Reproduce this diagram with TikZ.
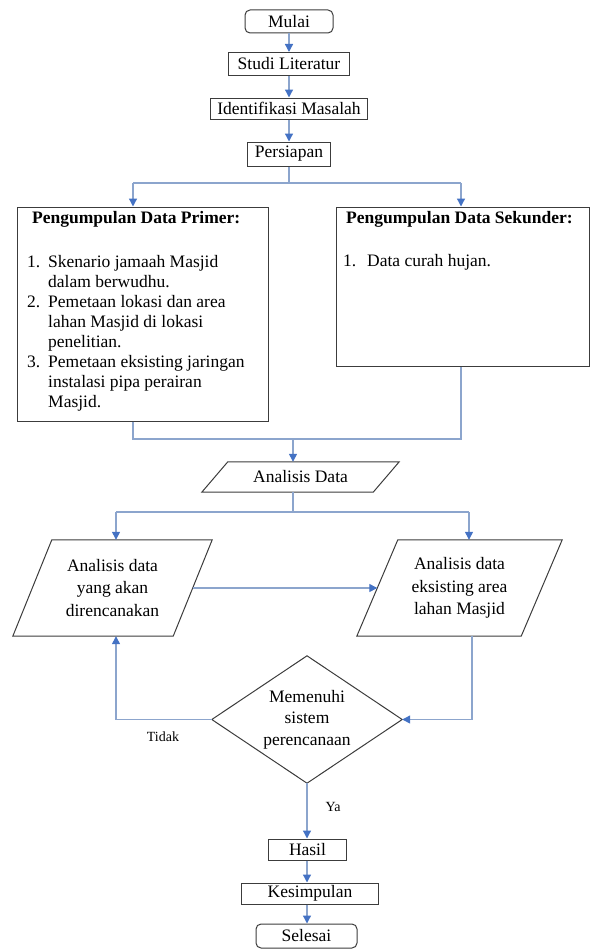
\documentclass[tikz,border=0pt]{standalone}
\usepackage{fontspec}
\setmainfont{Liberation Serif}
\usetikzlibrary{arrows.meta,calc}
\definecolor{boxgray}{RGB}{60,60,60}
\definecolor{linecol}{RGB}{140,165,205}
\definecolor{arrcol}{RGB}{68,114,196}
\newcommand\drawpara[2]{\draw[boxline] ([xshift=#2]#1.north west) -- ([xshift=#2]#1.north east) -- ([xshift=-#2]#1.south east) -- ([xshift=-#2]#1.south west) -- cycle;}
\tikzset{
  boxline/.style={draw=boxgray, line width=1pt},
  box/.style={boxline, inner sep=0pt},
  plain/.style={inner sep=0pt, align=center},
  conn/.style={draw=linecol, line width=1.3pt},
  arr/.style={conn, -{Triangle[width=8pt,length=8pt,color=arrcol]}},
  lbl/.style={inner sep=0pt, font=\fontsize{14}{16}\selectfont},
  ttl/.style={anchor=west, inner sep=0pt, font=\fontsize{17.5}{20}\selectfont\bfseries},
  lst/.style={anchor=north west, inner sep=0pt},
}
\begin{document}
\begin{tikzpicture}[x=1pt,y=-1pt,font=\fontsize{17.5}{20}\selectfont]
\useasboundingbox (0,0) rectangle (590,950);

% top chain
\node[box, rounded corners=5pt, minimum width=88pt, minimum height=23pt] (mulai) at (289,21.5) {Mulai};
\node[box, minimum width=121pt, minimum height=23pt] (studi) at (289,64) {Studi Literatur};
\node[box, minimum width=157pt, minimum height=21pt] (ident) at (289,108.5) {Identifikasi Masalah};
\node[box, minimum width=83pt, minimum height=24pt] (persiapan) at (289,154) {Persiapan};
\draw[arr] (mulai) -- (studi);
\draw[arr] (studi) -- (ident);
\draw[arr] (ident) -- (persiapan);

% data collection boxes
\node[box, minimum width=251pt, minimum height=214pt] (primer) at (142.5,314) {};
\node[box, minimum width=253pt, minimum height=159pt] (sekunder) at (462.5,286.5) {};
\node[ttl] (primertitle) at (32,219) {Pengumpulan Data Primer:};
\node[lst] (primerlist) at (27,253) {\begin{tabular}{@{}l@{}l@{}}
\makebox[21pt][l]{1.} & Skenario jamaah Masjid\\
 & dalam berwudhu.\\
\makebox[21pt][l]{2.} & Pemetaan lokasi dan area\\
 & lahan Masjid di lokasi\\
 & penelitian.\\
\makebox[21pt][l]{3.} & Pemetaan eksisting jaringan\\
 & instalasi pipa perairan\\
 & Masjid.
\end{tabular}};
\node[ttl] (sekundertitle) at (346,219) {Pengumpulan Data Sekunder:};
\node[lst] (sekunderlist) at (343,252) {\begin{tabular}{@{}l@{}l@{}}
\makebox[24pt][l]{1.} & Data curah hujan.
\end{tabular}};

% split after Persiapan
\coordinate (s1) at (289,183);
\coordinate (pl) at (133,183);
\coordinate (pr) at (461,183);
\draw[conn] (persiapan) -- (s1);
\draw[conn] (pl) -- (pr);
\draw[arr] (pl) -- (pl |- primer.north);
\draw[arr] (pr) -- (pr |- sekunder.north);

% merge
\coordinate (ml) at (133,439);
\coordinate (mr) at (461,439);
\coordinate (mc) at (293,439);
\draw[conn] (primer.south -| ml) -- (ml) -- (mr) -- (sekunder.south -| mr);

% Analisis Data
\node[plain, minimum width=171pt, minimum height=30pt] (ad) at (300.5,477) {Analisis Data};
\drawpara{ad}{13pt}
\draw[arr] (mc) -- (mc |- ad.north);

% split 2
\coordinate (a1) at (293,512);
\coordinate (al) at (116,512);
\coordinate (ar) at (469,512);
\draw[conn] (ad.south -| a1) -- (a1);
\draw[conn] (al) -- (ar);

\node[plain, minimum width=160pt, minimum height=96pt, font=\fontsize{17.5}{22.5}\selectfont] (lp) at (112.5,588) {Analisis data\\yang akan\\direncanakan};
\drawpara{lp}{19.5pt}
\node[plain, minimum width=164pt, minimum height=96pt, font=\fontsize{17.5}{22.5}\selectfont] (rp) at (459.5,588) {Analisis data\\eksisting area\\lahan Masjid};
\drawpara{rp}{20.5pt}
\draw[arr] (al) -- (al |- lp.north);
\draw[arr] (ar) -- (ar |- rp.north);
\draw[arr] (lp.east) -- (rp.west);

% decision
\node[plain, minimum width=190pt, minimum height=127pt, font=\fontsize{17.5}{21.5}\selectfont] (dec) at (307,719.5) {Memenuhi\\sistem\\perencanaan};
\draw[boxline] (dec.north) -- (dec.east) -- (dec.south) -- (dec.west) -- cycle;

\coordinate (rb) at (472,719.5);
\draw[conn] (rp.south -| rb) -- (rb);
\draw[arr] (rb) -- (dec.east);

\coordinate (tk) at (116,719.5);
\draw[arr] (dec.west) -- (tk) -- (tk |- lp.south);
\node[lbl] (tidak) at (163,737) {Tidak};

% bottom chain
\node[box, minimum width=78pt, minimum height=21pt] (hasil) at (307.5,849.5) {Hasil};
\node[box, minimum width=137pt, minimum height=21pt] (kesimpulan) at (310,893.5) {Kesimpulan};
\node[box, rounded corners=5pt, minimum width=101pt, minimum height=24pt] (selesai) at (306.5,936) {Selesai};
\draw[arr] (dec.south) -- (dec.south |- hasil.north);
\node[lbl] (ya) at (333,807) {Ya};
\draw[arr] (dec.south |- hasil.south) -- (dec.south |- kesimpulan.north);
\draw[arr] (dec.south |- kesimpulan.south) -- (dec.south |- selesai.north);
\end{tikzpicture}
\end{document}
